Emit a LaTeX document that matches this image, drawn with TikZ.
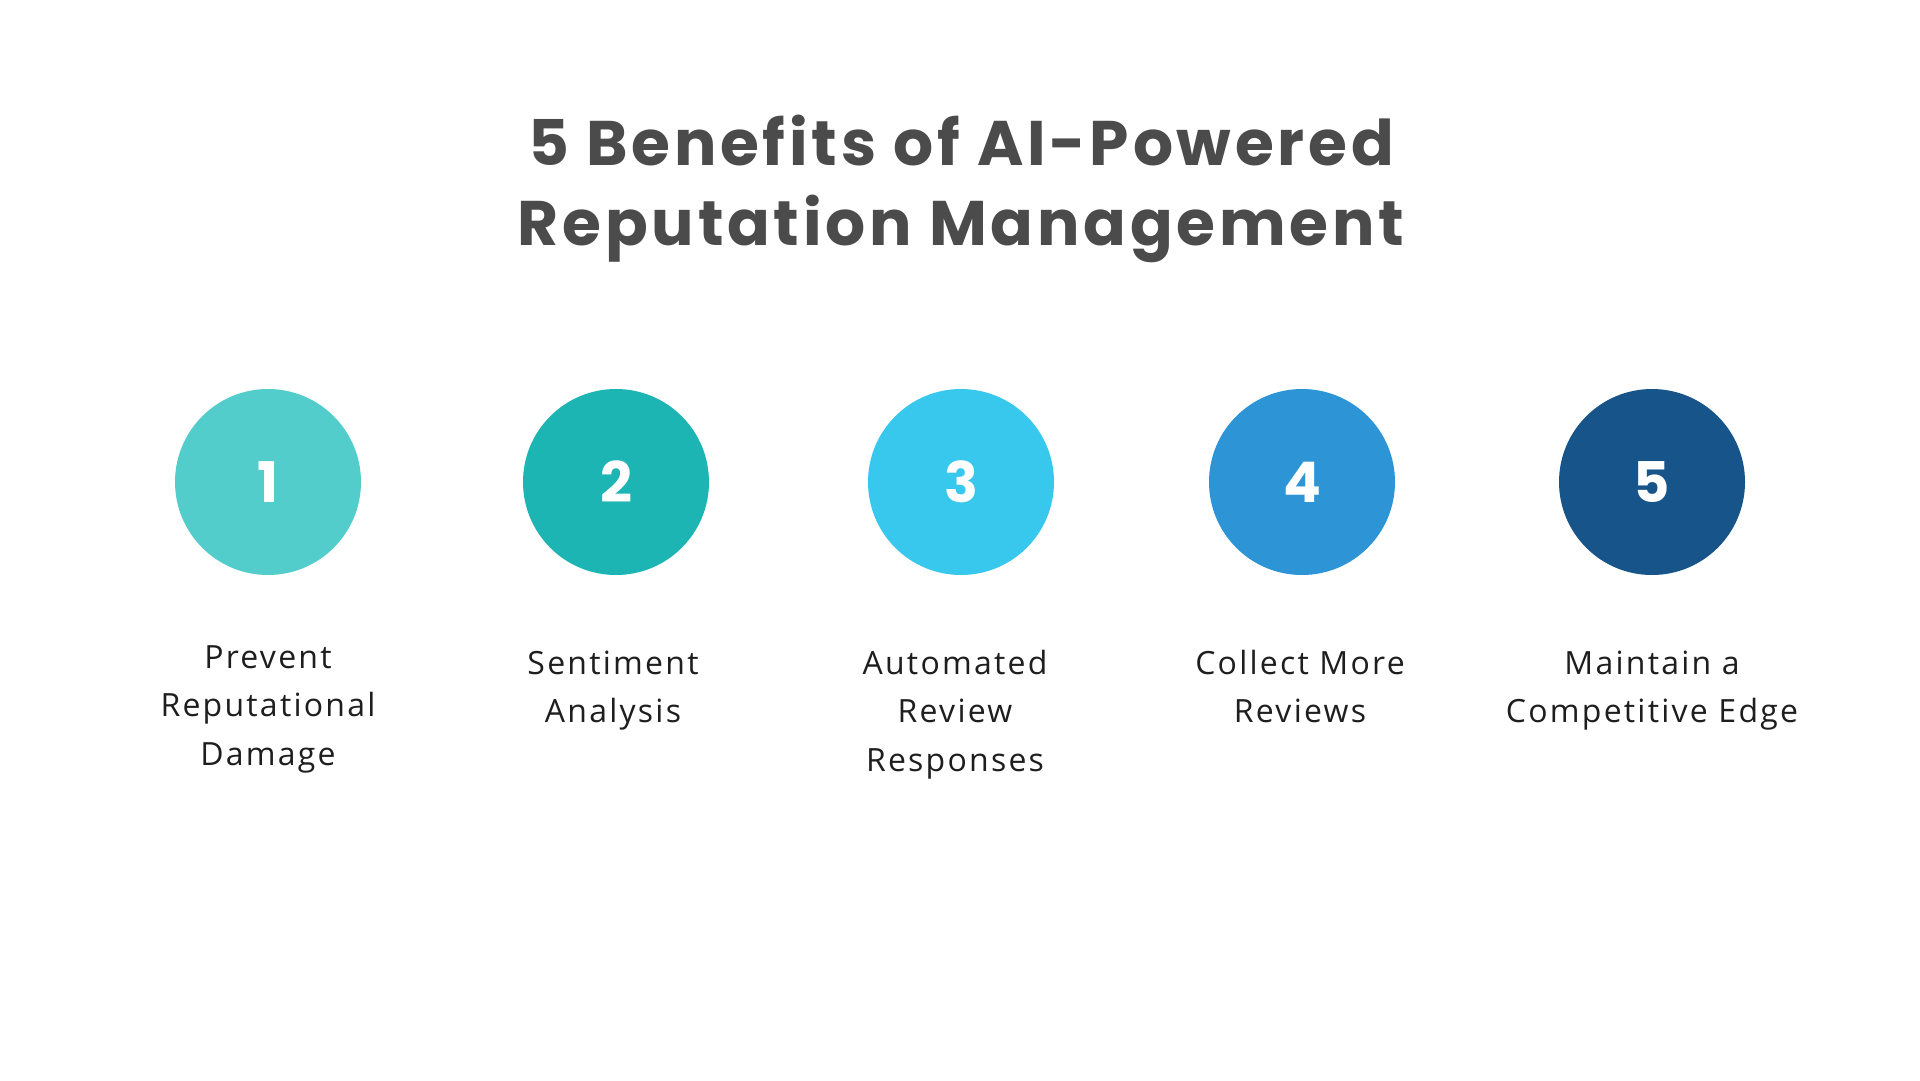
\documentclass[tikz,border=0pt]{standalone}
\usepackage{fontspec}
\setmainfont{Open Sans}
\newfontfamily\titlefont[LetterSpace=6]{Poppins}
\newfontfamily\numfont{Poppins}
\newfontfamily\labelfont[LetterSpace=7]{Open Sans}
\definecolor{cone}{HTML}{53CDCB}
\definecolor{ctwo}{HTML}{1CB5B3}
\definecolor{cthree}{HTML}{38C8EE}
\definecolor{cfour}{HTML}{2D94D6}
\definecolor{cfive}{HTML}{16548A}
\definecolor{titlegray}{HTML}{4B4B4B}
\definecolor{labelink}{HTML}{1E1E1E}
\tikzset{
  bubble/.style={circle, inner sep=0pt, minimum size=186pt, text=white,
    font=\numfont\bfseries\fontsize{56}{56}\selectfont},
  titleline/.style={anchor=base, inner sep=0pt, text=titlegray,
    font=\titlefont\bfseries\fontsize{63}{63}\selectfont},
  caption/.style={anchor=base, inner sep=0pt, text=labelink,
    font=\labelfont\fontsize{32}{48.5}\selectfont}
}
\newcommand{\lbl}[1]{\renewcommand{\arraystretch}{1}\setlength{\tabcolsep}{0pt}\begin{tabular}[t]{c}#1\end{tabular}}
\begin{document}
\begin{tikzpicture}[x=1pt,y=-1pt]
\useasboundingbox[fill=white] (0,0) rectangle (1920,1080);
\node[titleline] (t1) at (961,165) {5 Benefits of AI-Powered};
\node[titleline] (t2) at (961,245) {Reputation Management};

\node[bubble, fill=cone]   (b1) at (268,482)  {1};
\node[bubble, fill=ctwo]   (b2) at (616,482)  {2};
\node[bubble, fill=cthree] (b3) at (961,482)  {3};
\node[bubble, fill=cfour]  (b4) at (1302,482) {4};
\node[bubble, fill=cfive]  (b5) at (1652,482) {5};

\node[caption] (l1) at (268,668)  {\lbl{Prevent\\Reputational\\Damage}};
\node[caption] (l2) at (613,674)  {\lbl{Sentiment\\Analysis}};
\node[caption] (l3) at (955,674)  {\lbl{Automated\\Review\\Responses}};
\node[caption] (l4) at (1300,674) {\lbl{Collect More\\Reviews}};
\node[caption] (l5) at (1652,674) {\lbl{Maintain a\\Competitive Edge}};
\end{tikzpicture}
\end{document}
